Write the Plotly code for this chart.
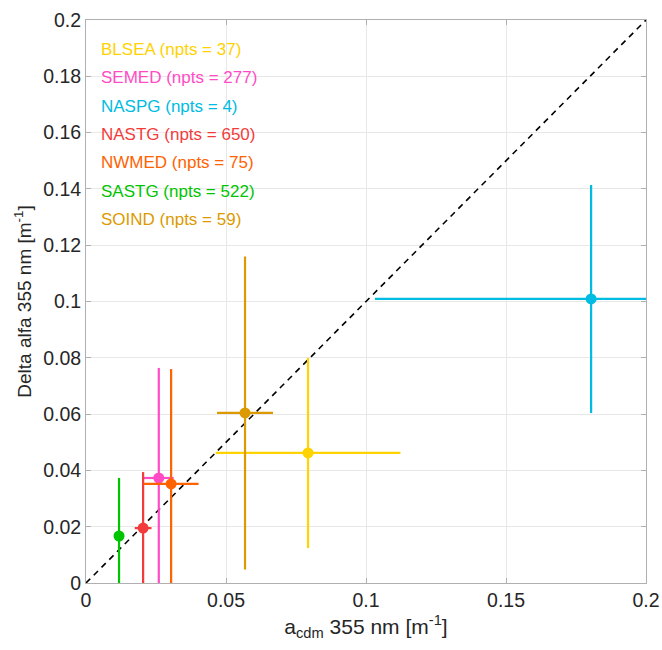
import plotly.graph_objects as go

# Regional comparison of CDM absorption vs. delta alpha at 355 nm
regions = ["BLSEA", "SEMED", "NASPG", "NASTG", "NWMED", "SASTG", "SOIND"]
npts = [37, 277, 4, 650, 75, 522, 59]
a_cdm = [0.0793, 0.0260, 0.1804, 0.0204, 0.0304, 0.0118, 0.0568]
a_cdm_err = [0.0330, 0.0053, 0.0772, 0.0030, 0.0098, 0.0012, 0.0100]
delta_alfa = [0.0462, 0.0373, 0.1009, 0.0195, 0.0352, 0.0167, 0.0604]
delta_alfa_err = [0.0338, 0.0391, 0.0405, 0.0199, 0.0408, 0.0206, 0.0556]
colors = ["#FFD200", "#FF4CC6", "#00BCE2", "#F23C3C", "#FF6200", "#00C400", "#DC9A00"]

FONT = "Liberation Sans, Arial, Helvetica, sans-serif"
TXT = "#262626"

fig = go.Figure()

# 1:1 reference line
fig.add_trace(go.Scatter(
    x=[0, 0.2], y=[0, 0.2], mode="lines",
    line=dict(color="black", width=1.6, dash="6px,5px"),
    showlegend=False, hoverinfo="skip",
))

for name, x, xe, y, ye, c in zip(regions, a_cdm, a_cdm_err, delta_alfa, delta_alfa_err, colors):
    fig.add_trace(go.Scatter(
        x=[x], y=[y], mode="markers", name=name,
        marker=dict(color=c, size=11, line=dict(width=0)),
        error_x=dict(type="data", array=[xe], color=c, thickness=2.2, width=0),
        error_y=dict(type="data", array=[ye], color=c, thickness=2.2, width=0),
        showlegend=False,
    ))

# Coloured text legend in the upper-left corner
for i, (name, n, c) in enumerate(zip(regions, npts, colors)):
    fig.add_annotation(
        x=0.0046, y=0.1895 - i * 0.01007, xref="x", yref="y",
        text=f"{name} (npts = {n})", showarrow=False,
        xanchor="left", yanchor="middle",
        font=dict(family=FONT, size=17, color=c),
    )

axis_common = dict(
    showgrid=True, gridcolor="#E8E8E8", gridwidth=1,
    showline=True, linecolor="#B0B0B0", linewidth=1, mirror="allticks",
    ticks="inside", ticklen=5, tickcolor="#B0B0B0",
    tickfont=dict(family=FONT, size=19.5, color=TXT),
    zeroline=False, automargin=False,
)

fig.update_xaxes(
    range=[0, 0.2], tickvals=[0, 0.05, 0.1, 0.15, 0.2],
    ticktext=["0", "0.05", "0.1", "0.15", "0.2"],
    title=dict(text="a<sub>cdm</sub> 355 nm [m<sup>-1</sup>]",
               font=dict(family=FONT, size=21, color=TXT), standoff=8),
    **axis_common,
)
fig.update_yaxes(
    range=[0, 0.2],
    tickvals=[0, 0.02, 0.04, 0.06, 0.08, 0.1, 0.12, 0.14, 0.16, 0.18, 0.2],
    ticktext=["0", "0.02", "0.04", "0.06", "0.08", "0.1", "0.12", "0.14", "0.16", "0.18", "0.2"],
    title=dict(text="Delta alfa 355 nm [m<sup>-1</sup>]",
               font=dict(family=FONT, size=19, color=TXT), standoff=6),
    **axis_common,
)

fig.update_layout(
    width=662, height=650,
    margin=dict(l=86, r=16, t=20, b=67),
    paper_bgcolor="white", plot_bgcolor="white",
    showlegend=False,
)

fig.write_html("out.html")
